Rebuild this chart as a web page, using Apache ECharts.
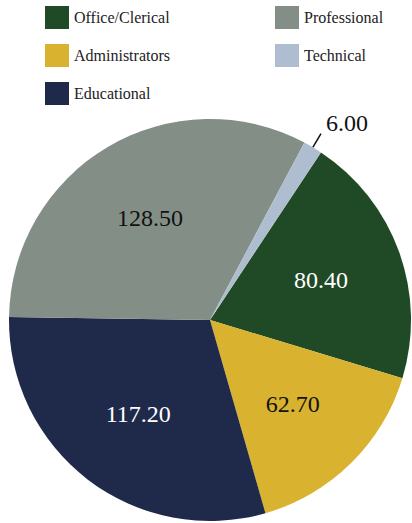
<!DOCTYPE html>
<html>
<head>
<meta charset="utf-8">
<script src="https://cdn.jsdelivr.net/npm/echarts@6/dist/echarts.min.js"></script>
<style>html,body{margin:0;padding:0;background:#fff;}#c{width:412px;height:523px;}</style>
</head>
<body>
<div id="c"></div>
<script>
const categories = ['Office/Clerical', 'Administrators', 'Educational', 'Professional', 'Technical'];
const values = [80.4, 62.7, 117.2, 128.5, 6.0];
const colors = ['#204a26', '#d9b22f', '#1f2a4b', '#838e87', '#aebdcf'];
const labelColors = ['#ffffff', '#111111', '#ffffff', '#111111', '#111111'];

const FONT = 'Liberation Serif';
const chart = echarts.init(document.getElementById('c'), null, {renderer: 'svg'});
const CX = 210, CY = 320, R = 201;

const data = categories.map((name, i) => {
  const item = {
    name: name,
    value: values[i],
    itemStyle: {color: colors[i]},
    label: {color: labelColors[i]}
  };
  if (name === 'Technical') {
    item.label = {position: 'outside', color: '#111111'};
    item.labelLine = {show: true, length: 16, length2: 0, lineStyle: {color: '#111111', width: 1.5}};
  }
  return item;
});

function makeLegend(left, names) {
  return {
    orient: 'vertical',
    left: left,
    top: 6,
    padding: 0,
    itemWidth: 24,
    itemHeight: 23,
    itemGap: 15,
    icon: 'rect',
    data: names,
    textStyle: {fontFamily: FONT, fontSize: 16, color: '#222222'}
  };
}

chart.setOption({
  animation: false,
  legend: [
    makeLegend(45, categories.slice(0, 3)),
    makeLegend(275, categories.slice(3))
  ],
  series: [{
    type: 'pie',
    center: [CX, CY],
    radius: [0, R],
    startAngle: 56.5,
    clockwise: true,
    avoidLabelOverlap: false,
    data: data,
    label: {
      show: true,
      position: 'inside',
      fontFamily: FONT,
      fontSize: 24,
      formatter: p => p.value.toFixed(2)
    },
    labelLayout: function (p) {
      if (categories[p.dataIndex] === 'Technical') {
        return {dy: -11};
      }
      const lx = p.labelRect.x + p.labelRect.width / 2;
      const ly = p.labelRect.y + p.labelRect.height / 2;
      const k = 0.14;
      return {dx: (lx - CX) * k, dy: (ly - CY) * k};
    },
    emphasis: {disabled: true}
  }]
});
</script>
</body>
</html>
